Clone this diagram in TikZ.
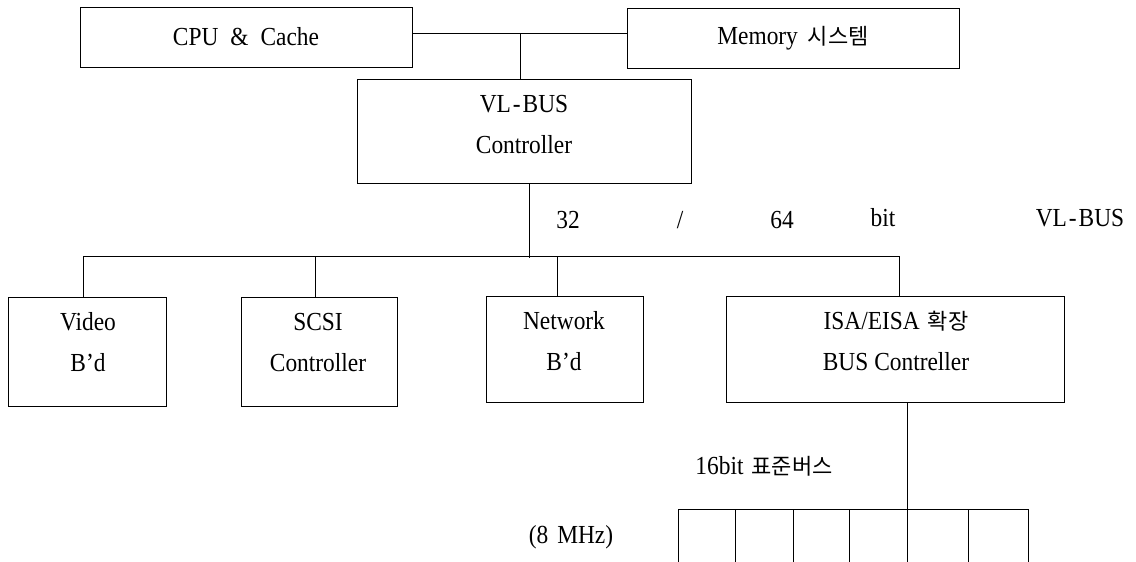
\documentclass[tikz,border=0pt]{standalone}
\usepackage{fontspec}
\setmainfont{Liberation Serif}[FakeStretch=0.9]
\newfontfamily\kr{Noto Sans CJK KR}
\newcommand{\hg}[1]{{\kr\fontsize{22}{26}\selectfont #1}}
\newcommand{\vlbus}{VL\kern2pt-\kern2pt BUS}
\begin{document}
\begin{tikzpicture}[x=1pt,y=-1pt,line width=0.9pt,
  box/.style={draw=black,rectangle,inner sep=0pt,font=\fontsize{26}{30}\selectfont},
  txt/.style={inner sep=0pt,align=center,font=\fontsize{26}{41}\selectfont},
  wire/.style={draw=black,line width=0.9pt}]
\useasboundingbox (0,0) rectangle (1136,562);
% boxes
\node[box,minimum width=332pt,minimum height=60pt] (cpu) at (246,37) {CPU\hspace{12pt}\&\hspace{12pt}Cache};
\node[box,minimum width=332pt,minimum height=60pt] (mem) at (793,38) {Memory\hspace{10pt}\hg{시스템}};
\node[box,minimum width=334pt,minimum height=104pt] (vl) at (524,131) {};
\node[box,minimum width=158pt,minimum height=109pt] (video) at (87,351.5) {};
\node[box,minimum width=156pt,minimum height=109pt] (scsi) at (319,351.5) {};
\node[box,minimum width=157pt,minimum height=106pt] (net) at (564.5,349) {};
\node[box,minimum width=338pt,minimum height=106pt] (isa) at (895,349) {};
% box texts
\node[txt] (vlT) at (524,125) {\vlbus\\Controller};
\node[txt] (videoT) at (88,342) {Video\\B'd};
\node[txt] (scsiT) at (318,343) {SCSI\\Controller};
\node[txt] (netT) at (564,341) {Network\\B'd};
\node[txt] (isaT) at (896,341) {ISA/EISA\hspace{8pt}\hg{확장}\\BUS Contreller};
% bus labels
\node[txt] (l32) at (568,220) {32};
\node[txt] (lsl) at (680,220) {/};
\node[txt] (l64) at (782,220) {64};
\node[txt] (lbit) at (883,218) {bit};
\node[txt] (lvl) at (1080,218) {\vlbus};
\node[txt] (l16) at (764,466) {16bit\hspace{8pt}\hg{표준버스}};
\node[txt] (lmhz) at (571,537) {(8\hspace{9pt}MHz)};
% connectors
\coordinate (j1) at (520,33);
\draw[wire] (cpu.east |- j1) -- (mem.west |- j1);
\draw[wire] (j1) -- (j1 |- vl.north);
\coordinate (vlb) at (529,258);
\draw[wire] (vl.south -| vlb) -- (vlb);
\coordinate (busL) at (83,256);
\coordinate (busR) at (899,256);
\coordinate (dS) at (315,256);
\coordinate (dN) at (557,256);
\draw[wire] (busL) -- (busR);
\draw[wire] (busL) -- (busL |- video.north);
\draw[wire] (dS) -- (dS |- scsi.north);
\draw[wire] (dN) -- (dN |- net.north);
\draw[wire] (busR) -- (busR |- isa.north);
\coordinate (isaB) at (907,509);
\draw[wire] (isaB |- isa.south) -- (isaB);
\coordinate (combL) at (678,509);
\coordinate (combR) at (1028,509);
\coordinate (bot) at (0,562);
\draw[wire] (combL) -- (combR);
\foreach \x [count=\i] in {678,735,793,849,907,968,1028} {
  \coordinate (s\i) at (\x,509);
  \draw[wire] (s\i) -- (s\i |- bot);
}
\end{tikzpicture}
\end{document}
